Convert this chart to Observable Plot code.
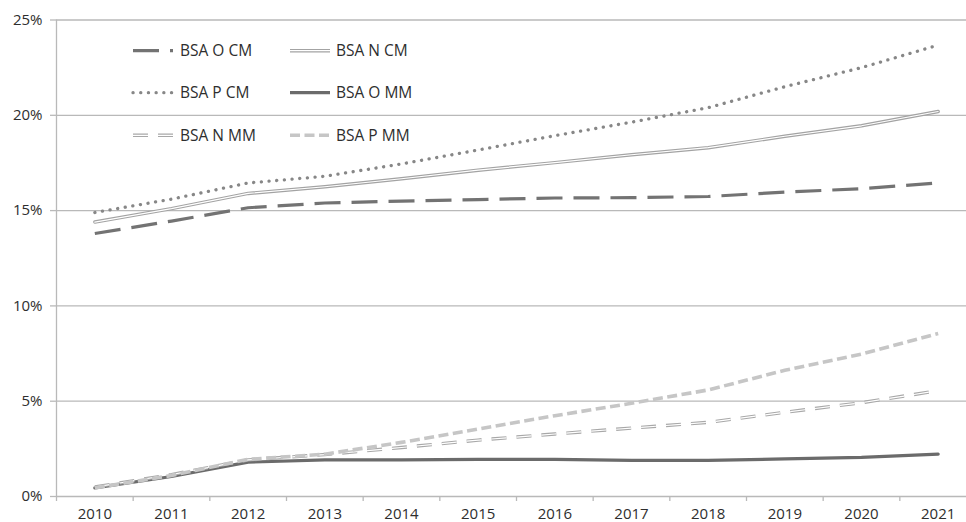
<!DOCTYPE html>
<html>
<head>
<meta charset="utf-8">
<script src="https://cdn.jsdelivr.net/npm/d3@7"></script>
<script src="https://cdn.jsdelivr.net/npm/@observablehq/plot@0.6"></script>
<style>
  html, body { margin: 0; padding: 0; background: #fff; }
  #chart { width: 966px; height: 522px; overflow: hidden; }
</style>
</head>
<body>
<div id="chart"></div>
<script>
const years = [2010, 2011, 2012, 2013, 2014, 2015, 2016, 2017, 2018, 2019, 2020, 2021];
const yTicks = [0, 0.05, 0.10, 0.15, 0.20, 0.25];
const seriesNames = ["BSA O CM", "BSA N CM", "BSA P CM", "BSA O MM", "BSA N MM", "BSA P MM"];

const bsaOCM = [13.8, 14.45, 15.15, 15.4, 15.5, 15.58, 15.66, 15.68, 15.74, 15.97, 16.15, 16.45];
const bsaNCM = [14.4, 15.1, 15.9, 16.25, 16.67, 17.12, 17.52, 17.93, 18.3, 18.9, 19.45, 20.2];
const bsaPCM = [14.9, 15.6, 16.45, 16.8, 17.45, 18.18, 18.93, 19.64, 20.4, 21.5, 22.5, 23.68];
const bsaOMM = [0.45, 1.05, 1.8, 1.92, 1.92, 1.95, 1.95, 1.9, 1.9, 1.97, 2.05, 2.22];
const bsaNMM = [0.5, 1.15, 1.92, 2.2, 2.57, 2.96, 3.28, 3.59, 3.89, 4.42, 4.92, 5.55];
const bsaPMM = [0.45, 1.1, 1.95, 2.22, 2.84, 3.54, 4.24, 4.89, 5.59, 6.62, 7.47, 8.55];

const seriesValues = [bsaOCM, bsaNCM, bsaPCM, bsaOMM, bsaNMM, bsaPMM];

const data = seriesNames.flatMap((name, i) =>
  years.map((year, j) => ({series: name, year, value: seriesValues[i][j] / 100}))
);

// styles per series: list of stroke layers
const styles = {
  "BSA O CM": [{stroke: "#737373", strokeWidth: 3.2, strokeDasharray: "26,11", strokeLinecap: "butt"}],
  "BSA N CM": [{stroke: "#a3a3a3", strokeWidth: 3.4}, {stroke: "#ffffff", strokeWidth: 1.2}],
  "BSA P CM": [{stroke: "#878787", strokeWidth: 3.3, strokeDasharray: "0.1,7.6", strokeLinecap: "round"}],
  "BSA O MM": [{stroke: "#6b6b6b", strokeWidth: 3.2}],
  "BSA N MM": [{stroke: "#a8a8a8", strokeWidth: 3.4, strokeDasharray: "15,10", strokeLinecap: "butt"},
               {stroke: "#ffffff", strokeWidth: 1.2, strokeDasharray: "15,10", strokeLinecap: "butt"}],
  "BSA P MM": [{stroke: "#c6c6c6", strokeWidth: 3.6, strokeDasharray: "10,4.5", strokeLinecap: "butt"}]
};

const grid = "#b9b9b9";
const textColor = "#2e2e2e";
const x0 = years[0] - 0.5, x1 = years[years.length - 1] + 0.5;

const lineMarks = seriesNames.flatMap(name =>
  styles[name].map(s => Plot.line(data.filter(d => d.series === name), {
    x: "year", y: "value", strokeLinejoin: "round", ...s
  }))
);

const chart = Plot.plot({
  width: 966,
  height: 522,
  marginLeft: 56,
  marginRight: 0,
  marginTop: 19.5,
  marginBottom: 26,
  style: {fontFamily: "'Open Sans', sans-serif", fontSize: "15px", color: textColor, background: "#fff"},
  x: {domain: [x0, x1], range: [56, 976], label: null},
  y: {domain: [0, 0.25], label: null},
  marks: [
    Plot.ruleY(yTicks, {y: d => d, x1: x0, x2: x1, stroke: grid, strokeWidth: 1.3}),
    Plot.ruleX([x0], {y1: 0, y2: 0.25, stroke: grid, strokeWidth: 1.3}),
    Plot.axisY({ticks: yTicks, tickFormat: d3.format(".0%"), tickSize: 6, tickPadding: 8, label: null,
                stroke: grid, fill: textColor, strokeWidth: 1.3, fontSize: 15}),
    Plot.axisX({ticks: years, tickSize: 0, tickPadding: 12, tickFormat: d => String(d), label: null,
                fill: textColor, fontSize: 15}),
    Plot.axisX({ticks: [x0, ...years.map(y => y + 0.5)], tickSize: 5, tickFormat: () => "", label: null,
                stroke: grid, strokeWidth: 1.3}),
    ...lineMarks
  ]
});

document.getElementById("chart").appendChild(chart);

// legend drawn into the SVG, over the plot area
const svg = d3.select(chart);
const lg = svg.append("g").attr("class", "legend").attr("text-anchor", "start");
const cols = [{sx1: 133, sx2: 173, tx: 180}, {sx1: 290, sx2: 330, tx: 336}];
const rows = [50.7, 92.7, 135.3];
seriesNames.forEach((name, i) => {
  const c = cols[i % 2], ry = rows[Math.floor(i / 2)];
  styles[name].forEach(s => {
    lg.append("line")
      .attr("x1", c.sx1).attr("x2", c.sx2).attr("y1", ry).attr("y2", ry)
      .attr("stroke", s.stroke).attr("stroke-width", s.strokeWidth)
      .attr("stroke-dasharray", s.strokeDasharray || null)
      .attr("stroke-linecap", s.strokeLinecap || "butt");
  });
  lg.append("text")
    .attr("x", c.tx).attr("y", ry).attr("dy", "0.36em")
    .attr("text-anchor", "start")
    .attr("fill", textColor)
    .style("font-family", "'Open Sans', sans-serif")
    .style("font-size", "15.5px")
    .text(name);
});
</script>
</body>
</html>
